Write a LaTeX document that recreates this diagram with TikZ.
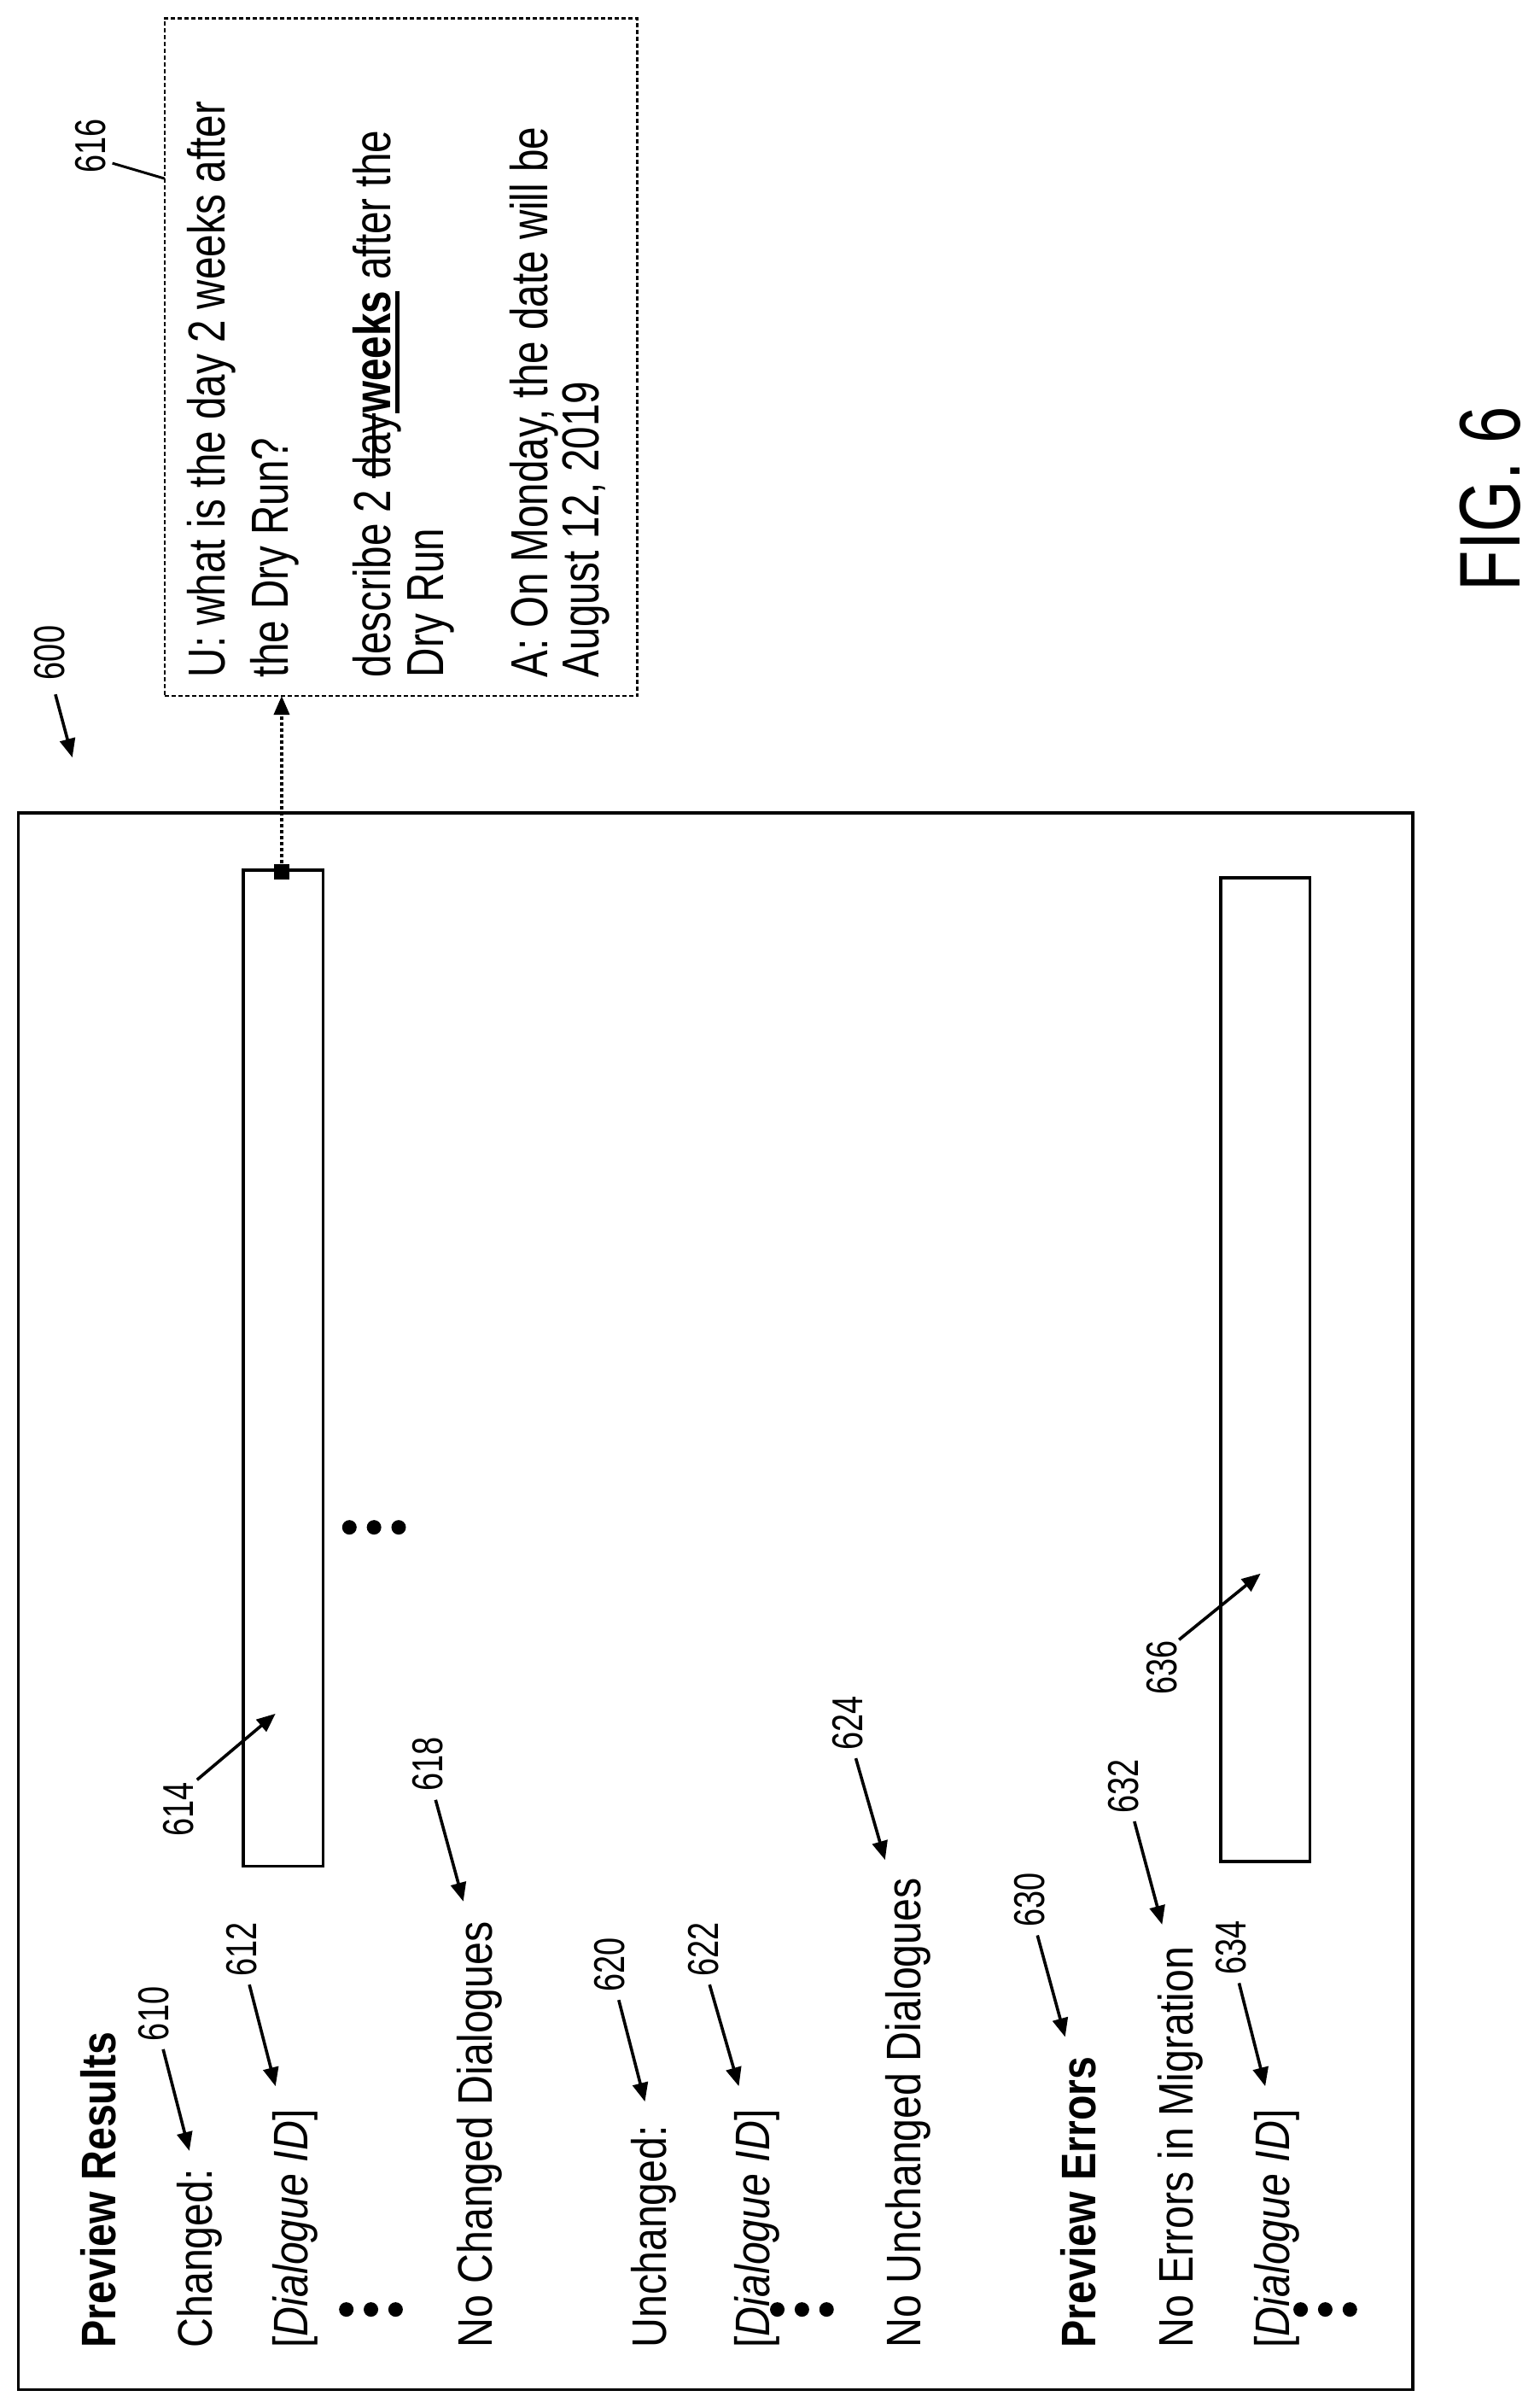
\documentclass[tikz,border=0pt]{standalone}
\usepackage{fontspec}
\setmainfont{Liberation Sans}[FakeStretch=0.85]
\newfontfamily\boxf{Liberation Sans}[FakeStretch=0.78]
\newfontfamily\labf{Liberation Sans}[FakeStretch=0.75]
\newfontfamily\figf{Liberation Sans}[FakeStretch=0.77]
\newcommand\mysout[1]{{\setbox0\hbox{#1}\rlap{\rule[0.3em]{\wd0}{0.06em}}\box0}}
\newcommand\myuline[1]{{\setbox0\hbox{#1}\rlap{\rule[-0.17em]{\wd0}{0.08em}}\box0}}
\usetikzlibrary{arrows.meta}
\begin{document}
\begin{tikzpicture}[x=1.803pt,y=-1.803pt,
  txt/.style={rotate=90,anchor=base west,inner sep=0,font=\fontsize{56.8}{68}\selectfont},
  btxt/.style={txt,font=\fontsize{56.8}{68}\selectfont\bfseries},
  boxt/.style={rotate=90,anchor=base west,inner sep=0,font=\boxf\fontsize{61}{72}\selectfont},
  lab/.style={rotate=90,inner sep=0,font=\labf\fontsize{50.5}{60}\selectfont},
  arr/.style={line width=3.6pt,-{Triangle[length=22pt,width=18pt]}},
  frame/.style={draw,line width=3.6pt},
  dot/.style={circle,fill,inner sep=0,minimum size=17pt}]
\useasboundingbox (0,0) rectangle (1000,1564);
% outer frame
\node[frame,inner sep=0,minimum width=906*1.803pt,minimum height=1024*1.803pt] (outer) at (465,1040) {};
% rectangles
\node[frame,inner sep=0,minimum width=52*1.803pt,minimum height=647*1.803pt] (r614) at (184,888.5) {};
\node[frame,inner sep=0,minimum width=58*1.803pt,minimum height=639*1.803pt] (r636) at (822,889.5) {};
% dialogue box
\node[draw,line width=2.5pt,dash pattern=on 5pt off 3pt,inner sep=0,minimum width=307*1.803pt,minimum height=440*1.803pt] (b616) at (260.5,232) {};
\node[fill,inner sep=0,minimum size=18pt] (sq) at (183,566) {};
\coordinate (b616s) at (183,452);
\draw[line width=3.6pt,dash pattern=on 4pt off 3pt,-{Triangle[length=22pt,width=18pt]}] (sq) -- (b616s);
% box text
\node[boxt] (l1) at (146,440) {U: what is the day 2 weeks after};
\node[boxt] (l2) at (187,440) {the Dry Run?};
\node[boxt] (l3) at (254,440) {describe 2 \mysout{day}\myuline{\bfseries weeks} after the};
\node[boxt] (l4) at (288,440) {Dry Run};
\node[boxt] (l5) at (356,440) {A: On Monday, the date will be};
\node[boxt] (l6) at (389,440) {August 12, 2019};
% main texts
\node[btxt] (t1) at (75,1525) {Preview Results};
\node[txt] (t2) at (138,1525) {Changed:};
\node[txt] (t3) at (200,1525) {[\textit{Dialogue ID}]};
\node[txt] (t4) at (320,1525) {No Changed Dialogues};
\node[txt] (t5) at (433,1525) {Unchanged:};
\node[txt] (t6) at (500,1525) {[\textit{Dialogue ID}]};
\node[txt] (t7) at (598,1525) {No Unchanged Dialogues};
\node[btxt] (t8) at (712,1525) {Preview Errors};
\node[txt] (t9) at (775,1525) {No Errors in Migration};
\node[txt] (t10) at (838,1525) {[\textit{Dialogue ID}]};
% dots
\foreach \n/\x/\y in {a/0/1500,b/280/1500,c/620/1500}{
  \node[dot] (d\n1) at (225+\x,\y) {};
  \node[dot] (d\n2) at (241+\x,\y) {};
  \node[dot] (d\n3) at (257+\x,\y) {};}
\node[dot] (dd1) at (227,992) {};
\node[dot] (dd2) at (243,992) {};
\node[dot] (dd3) at (259,992) {};
% labels
\node[lab] (n600) at (32,424) {600};
\node[lab] (n616) at (59,95) {616};
\node[lab] (n610) at (100,1308) {610};
\node[lab] (n612) at (157,1266) {612};
\node[lab] (n614) at (116,1175) {614};
\node[lab] (n618) at (278,1146) {618};
\node[lab] (n620) at (396,1276) {620};
\node[lab] (n622) at (457,1266) {622};
\node[lab] (n624) at (551,1119) {624};
\node[lab] (n630) at (669,1234) {630};
\node[lab] (n632) at (730,1160) {632};
\node[lab] (n634) at (800,1265) {634};
\node[lab] (n636) at (755,1083) {636};
\node[rotate=90,inner sep=0,font=\figf\fontsize{101}{110}\selectfont] (fig) at (968,324) {FIG. 6};
% connectors
\coordinate (e600) at (47,492);
\coordinate (e610) at (123,1397);
\coordinate (e612) at (179,1355);
\coordinate (e614) at (179,1113);
\coordinate (e618) at (301,1235);
\coordinate (e620) at (419,1365);
\coordinate (e622) at (480,1355);
\coordinate (e624) at (575,1208);
\coordinate (e630) at (692,1323);
\coordinate (e632) at (755,1250);
\coordinate (e634) at (822,1355);
\coordinate (e636) at (819,1022);
\coordinate (s616) at (107,116);
\draw[line width=3pt] (73,106) -- (s616);
\draw[arr] (36,451) -- (e600);
\draw[arr] (106,1331) -- (e610);
\draw[arr] (162,1289) -- (e612);
\draw[arr] (128,1156) -- (e614);
\draw[arr] (283,1169) -- (e618);
\draw[arr] (402,1299) -- (e620);
\draw[arr] (461,1289) -- (e622);
\draw[arr] (556,1142) -- (e624);
\draw[arr] (674,1257) -- (e630);
\draw[arr] (737,1183) -- (e632);
\draw[arr] (805,1288) -- (e634);
\draw[arr] (766,1065) -- (e636);
\end{tikzpicture}
\end{document}
